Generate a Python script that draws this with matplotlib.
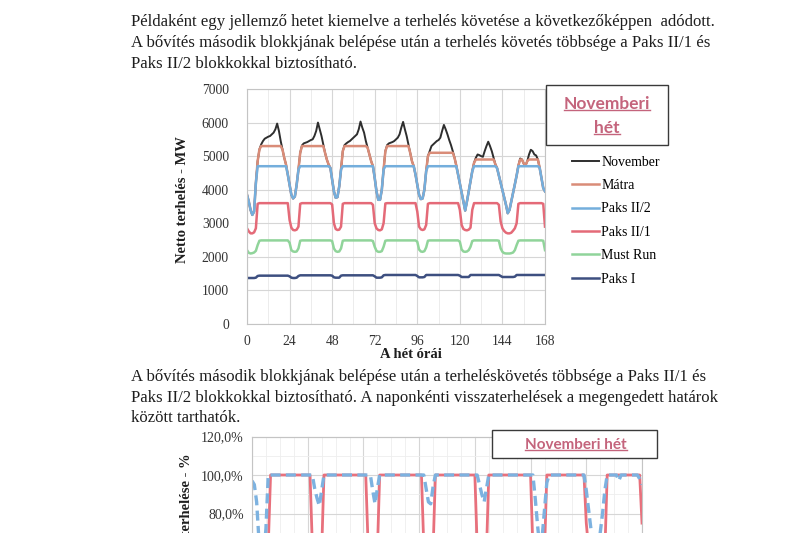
import matplotlib
matplotlib.use("Agg")
import matplotlib.pyplot as plt
import numpy as np
from matplotlib.lines import Line2D
from matplotlib.patches import Rectangle
from matplotlib.ticker import FixedLocator, FuncFormatter, MultipleLocator

W, H = 800, 533
SERIF = "Liberation Serif"
SANS = "Lato"

# ---- text of the page -------------------------------------------------------
para1 = [
    "Példaként egy jellemző hetet kiemelve a terhelés követése a következőképpen  adódott.",
    "A bővítés második blokkjának belépése után a terhelés követés többsége a Paks II/1 és",
    "Paks II/2 blokkokkal biztosítható.",
]
para2 = [
    "A bővítés második blokkjának belépése után a terheléskövetés többsége a Paks II/1 és",
    "Paks II/2 blokkokkal biztosítható. A naponkénti visszaterhelések a megengedett határok",
    "között tarthatók.",
]

# ---- chart 1: hourly stacked load of a November week, MW ---------------------
series_names = ["November", "Mátra", "Paks II/2", "Paks II/1", "Must Run", "Paks I"]

november = [
    3850, 3650, 3400, 3250, 3350, 4200, 4850, 5200, 5350, 5450, 5520, 5550,
    5580, 5600, 5650, 5700, 5800, 5970, 5750, 5450, 5200, 4950, 4750, 4450,
    4150, 3850, 3740, 3800, 4150, 4600, 5100, 5320, 5380, 5400, 5420, 5450,
    5480, 5500, 5600, 5750, 6000, 5800, 5600, 5350, 5100, 4900, 4750, 4650,
    4300, 3950, 3760, 3780, 4100, 4600, 5150, 5330, 5380, 5420, 5450, 5500,
    5550, 5600, 5650, 5800, 6030, 5850, 5700, 5450, 5250, 5050, 4850, 4700,
    4350, 3950, 3700, 3700, 4000, 4600, 5150, 5330, 5380, 5400, 5420, 5450,
    5500, 5550, 5650, 5850, 6020, 5800, 5600, 5350, 5100, 4850, 4700, 4450,
    4150, 3850, 3720, 3740, 4000, 4550, 5000, 5150, 5300, 5350, 5400, 5450,
    5480, 5550, 5750, 5930, 5800, 5650, 5480, 5330, 5150, 4950, 4720, 4450,
    4180, 3920, 3650, 3380, 3650, 3950, 4250, 4550, 4800, 4950, 5050, 5030,
    5000, 4980, 5150, 5300, 5430, 5300, 5150, 4950, 4760, 4640, 4420, 4200,
    3990, 3770, 3550, 3300, 3400, 3650, 3910, 4160, 4420, 4720, 4930, 4900,
    4780, 4720, 4850, 5050, 5190, 5150, 5050, 5020, 4900, 4650, 4350, 4050,
    3950,
]
matra = [
    3850, 3650, 3400, 3250, 3350, 4200, 4850, 5200, 5300, 5300, 5300, 5300,
    5300, 5300, 5300, 5300, 5300, 5300, 5300, 5300, 5200, 4950, 4750, 4450,
    4150, 3850, 3740, 3800, 4150, 4600, 5100, 5300, 5300, 5300, 5300, 5300,
    5300, 5300, 5300, 5300, 5300, 5300, 5300, 5300, 5100, 4900, 4750, 4650,
    4300, 3950, 3760, 3780, 4100, 4600, 5150, 5300, 5300, 5300, 5300, 5300,
    5300, 5300, 5300, 5300, 5300, 5300, 5300, 5300, 5250, 5050, 4850, 4700,
    4350, 3950, 3700, 3700, 4000, 4600, 5150, 5300, 5300, 5300, 5300, 5300,
    5300, 5300, 5300, 5300, 5300, 5300, 5300, 5300, 5100, 4850, 4700, 4450,
    4150, 3850, 3720, 3740, 4000, 4550, 5000, 5100, 5100, 5100, 5100, 5100,
    5100, 5100, 5100, 5100, 5100, 5100, 5100, 5100, 5100, 4950, 4720, 4450,
    4180, 3920, 3650, 3380, 3650, 3950, 4250, 4550, 4800, 4900, 4900, 4900,
    4900, 4900, 4900, 4900, 4900, 4900, 4900, 4900, 4760, 4640, 4420, 4200,
    3990, 3770, 3550, 3300, 3400, 3650, 3910, 4160, 4420, 4720, 4900, 4900,
    4780, 4720, 4850, 4900, 4900, 4900, 4900, 4900, 4900, 4650, 4350, 4050,
    3950,
]
paks2_2 = [
    3850, 3650, 3400, 3250, 3350, 4200, 4700, 4700, 4700, 4700, 4700, 4700,
    4700, 4700, 4700, 4700, 4700, 4700, 4700, 4700, 4700, 4700, 4700, 4450,
    4150, 3850, 3740, 3800, 4150, 4600, 4700, 4700, 4700, 4700, 4700, 4700,
    4700, 4700, 4700, 4700, 4700, 4700, 4700, 4700, 4700, 4700, 4700, 4650,
    4300, 3950, 3760, 3780, 4100, 4600, 4700, 4700, 4700, 4700, 4700, 4700,
    4700, 4700, 4700, 4700, 4700, 4700, 4700, 4700, 4700, 4700, 4700, 4700,
    4350, 3950, 3700, 3700, 4000, 4600, 4700, 4700, 4700, 4700, 4700, 4700,
    4700, 4700, 4700, 4700, 4700, 4700, 4700, 4700, 4700, 4700, 4700, 4450,
    4150, 3850, 3720, 3740, 4000, 4550, 4700, 4700, 4700, 4700, 4700, 4700,
    4700, 4700, 4700, 4700, 4700, 4700, 4700, 4700, 4700, 4700, 4700, 4450,
    4180, 3920, 3650, 3380, 3650, 3950, 4250, 4550, 4700, 4700, 4700, 4700,
    4700, 4700, 4700, 4700, 4700, 4700, 4700, 4700, 4700, 4640, 4420, 4200,
    3990, 3770, 3550, 3300, 3400, 3650, 3910, 4160, 4420, 4700, 4700, 4700,
    4700, 4700, 4700, 4700, 4700, 4700, 4700, 4700, 4700, 4650, 4350, 4050,
    3950,
]
paks2_1 = [
    2850, 2760, 2700, 2700, 2730, 2850, 3580, 3600, 3600, 3600, 3600, 3600,
    3600, 3600, 3600, 3600, 3600, 3600, 3600, 3600, 3600, 3600, 3600, 3600,
    3100, 2870, 2800, 2790, 2810, 2900, 3580, 3600, 3600, 3600, 3600, 3600,
    3600, 3600, 3600, 3600, 3600, 3600, 3600, 3600, 3600, 3600, 3600, 3600,
    3560, 3000, 2830, 2800, 2810, 2900, 3580, 3600, 3600, 3600, 3600, 3600,
    3600, 3600, 3600, 3600, 3600, 3600, 3600, 3600, 3600, 3600, 3600, 3550,
    3000, 2850, 2800, 2790, 2820, 3000, 3590, 3600, 3600, 3600, 3600, 3600,
    3600, 3600, 3600, 3600, 3600, 3600, 3600, 3600, 3600, 3600, 3600, 3600,
    3350, 2900, 2820, 2800, 2820, 2950, 3580, 3600, 3600, 3600, 3600, 3600,
    3600, 3600, 3600, 3600, 3600, 3600, 3600, 3600, 3600, 3600, 3600, 3600,
    3400, 2950, 2830, 2800, 2790, 2810, 2870, 3400, 3600, 3600, 3600, 3600,
    3600, 3600, 3600, 3600, 3600, 3600, 3600, 3600, 3600, 3600, 3550, 3050,
    2850, 2770, 2720, 2700, 2700, 2720, 2780, 2850, 3000, 3580, 3600, 3600,
    3600, 3600, 3600, 3600, 3600, 3600, 3600, 3600, 3600, 3600, 3600, 3580,
    2900,
]
must_run = [
    2200, 2120, 2100, 2110, 2130, 2180, 2350, 2480, 2490, 2490, 2490, 2490,
    2490, 2490, 2490, 2490, 2490, 2490, 2490, 2490, 2490, 2490, 2490, 2490,
    2420, 2200, 2160, 2150, 2160, 2250, 2480, 2490, 2490, 2490, 2490, 2490,
    2490, 2490, 2490, 2490, 2490, 2490, 2490, 2490, 2490, 2490, 2490, 2490,
    2470, 2250, 2170, 2150, 2160, 2250, 2480, 2490, 2490, 2490, 2490, 2490,
    2490, 2490, 2490, 2490, 2490, 2490, 2490, 2490, 2490, 2490, 2490, 2470,
    2300, 2180, 2150, 2150, 2170, 2300, 2480, 2490, 2490, 2490, 2490, 2490,
    2490, 2490, 2490, 2490, 2490, 2490, 2490, 2490, 2490, 2490, 2490, 2490,
    2450, 2220, 2160, 2150, 2170, 2280, 2480, 2490, 2490, 2490, 2490, 2490,
    2490, 2490, 2490, 2490, 2490, 2490, 2490, 2490, 2490, 2490, 2490, 2490,
    2450, 2220, 2160, 2150, 2160, 2200, 2300, 2470, 2490, 2490, 2490, 2490,
    2490, 2490, 2490, 2490, 2490, 2490, 2490, 2490, 2490, 2490, 2480, 2250,
    2150, 2110, 2100, 2100, 2100, 2110, 2130, 2200, 2350, 2480, 2490, 2490,
    2490, 2490, 2490, 2490, 2490, 2490, 2490, 2490, 2490, 2490, 2490, 2480,
    2200,
]
paks1 = [
    1370, 1370, 1370, 1370, 1370, 1380, 1430, 1440, 1440, 1440, 1440, 1440,
    1440, 1440, 1440, 1440, 1440, 1440, 1440, 1440, 1440, 1440, 1440, 1440,
    1420, 1380, 1370, 1370, 1380, 1430, 1450, 1450, 1450, 1450, 1450, 1450,
    1450, 1450, 1450, 1450, 1450, 1450, 1450, 1450, 1450, 1450, 1450, 1450,
    1440, 1390, 1380, 1380, 1380, 1440, 1450, 1450, 1450, 1450, 1450, 1450,
    1450, 1450, 1450, 1450, 1450, 1450, 1450, 1450, 1450, 1450, 1450, 1450,
    1420, 1380, 1380, 1380, 1390, 1450, 1460, 1460, 1460, 1460, 1460, 1460,
    1460, 1460, 1460, 1460, 1460, 1460, 1460, 1460, 1460, 1460, 1460, 1460,
    1430, 1390, 1390, 1390, 1400, 1460, 1460, 1460, 1460, 1460, 1460, 1460,
    1460, 1460, 1460, 1460, 1460, 1460, 1460, 1460, 1460, 1460, 1460, 1460,
    1440, 1400, 1400, 1400, 1400, 1400, 1460, 1460, 1460, 1460, 1460, 1460,
    1460, 1460, 1460, 1460, 1460, 1460, 1460, 1460, 1460, 1460, 1460, 1430,
    1400, 1400, 1400, 1400, 1400, 1400, 1400, 1410, 1460, 1460, 1460, 1460,
    1460, 1460, 1460, 1460, 1460, 1460, 1460, 1460, 1460, 1460, 1460, 1460,
    1460,
]
series_colors = ["#2e2e2e", "#d98c78", "#74aedc", "#e46a78", "#90d49a", "#3d4f80"]
series_widths = [1.4, 1.8, 1.8, 1.8, 1.8, 1.8]

# ---- chart 2: unit loading in percent (only the top of it is on the page) ----
paks2_1_pct = [
    58, 57, 56, 56, 57, 58, 60, 63, 100, 100, 100, 100,
    100, 100, 100, 100, 100, 100, 100, 100, 100, 100, 100, 100,
    100, 100, 63, 59, 58, 58, 60, 100, 100, 100, 100, 100,
    100, 100, 100, 100, 100, 100, 100, 100, 100, 100, 100, 100,
    100, 100, 64, 59, 58, 58, 60, 100, 100, 100, 100, 100,
    100, 100, 100, 100, 100, 100, 100, 100, 100, 100, 100, 100,
    100, 100, 63, 59, 58, 58, 61, 100, 100, 100, 100, 100,
    100, 100, 100, 100, 100, 100, 100, 100, 100, 100, 100, 100,
    100, 63, 59, 58, 58, 60, 100, 100, 100, 100, 100, 100,
    100, 100, 100, 100, 100, 100, 100, 100, 100, 100, 100, 100,
    100, 62, 58, 57, 57, 58, 60, 100, 100, 100, 100, 100,
    100, 100, 100, 100, 100, 100, 100, 100, 100, 100, 100, 100,
    75, 62, 57, 55, 54, 54, 55, 57, 60, 100, 100, 100,
    100, 100, 100, 100, 100, 100, 100, 100, 100, 100, 100, 100,
    75,
]
paks2_2_pct = [
    97, 95, 86, 66, 55, 58, 72, 100, 100, 100, 100, 100,
    100, 100, 100, 100, 100, 100, 100, 100, 100, 100, 100, 100,
    100, 100, 100, 93, 88, 84, 92, 100, 100, 100, 100, 100,
    100, 100, 100, 100, 100, 100, 100, 100, 100, 100, 100, 100,
    100, 100, 100, 100, 92, 85, 93, 100, 100, 100, 100, 100,
    100, 100, 100, 100, 100, 100, 100, 100, 100, 100, 100, 100,
    100, 100, 100, 93, 86, 85, 94, 100, 100, 100, 100, 100,
    100, 100, 100, 100, 100, 100, 100, 100, 100, 100, 100, 100,
    100, 100, 95, 90, 86, 93, 100, 100, 100, 100, 100, 100,
    100, 100, 100, 100, 100, 100, 100, 100, 100, 100, 100, 100,
    100, 100, 88, 74, 62, 68, 82, 96, 100, 100, 100, 100,
    100, 100, 100, 100, 100, 100, 100, 100, 100, 100, 100, 100,
    92, 82, 72, 62, 58, 62, 70, 80, 92, 100, 100, 100,
    100, 100, 97, 100, 100, 100, 100, 100, 100, 100, 100, 98,
    95,
]
pct_ticks = [80, 100, 120]  # the lower ticks fall below the page edge

hours = np.arange(len(november))


def box(left, top, right, bottom):
    """Figure-fraction rectangle from pixel edges measured from the top-left."""
    return [left / W, 1 - bottom / H, (right - left) / W, (bottom - top) / H]


def fx(x):
    return x / W


def fy(y):
    return 1 - y / H


fig = plt.figure(figsize=(W / 100, H / 100), dpi=100)
fig.patch.set_facecolor("white")

for i, line in enumerate(para1):
    fig.text(fx(131), fy(22 + 21 * i), line, family=SERIF, fontsize=12.1,
             color="#1e1e1e", va="center", ha="left")
for i, line in enumerate(para2):
    fig.text(fx(131), fy(377 + 20.5 * i), line, family=SERIF, fontsize=12.1,
             color="#1e1e1e", va="center", ha="left")

# ---- chart 1 -----------------------------------------------------------------
ax1 = fig.add_axes(box(247, 89, 545, 324))
data1 = [november, matra, paks2_2, paks2_1, must_run, paks1]
for name, values, color, lw in zip(series_names, data1, series_colors, series_widths):
    ax1.plot(hours, values, color=color, lw=lw, label=name, solid_joinstyle="round")
ax1.set_xlim(0, 168)
ax1.set_ylim(0, 7000)
ax1.xaxis.set_major_locator(MultipleLocator(24))
ax1.xaxis.set_minor_locator(MultipleLocator(12))
ax1.yaxis.set_major_locator(MultipleLocator(1000))
ax1.grid(which="major", color="#d6d6d6", lw=0.8)
ax1.grid(which="minor", axis="x", color="#ececec", lw=0.7)
ax1.set_axisbelow(True)
for sp in ax1.spines.values():
    sp.set_color("#c4c4c4")
    sp.set_linewidth(0.8)
ax1.tick_params(which="both", length=0)
ax1.tick_params(axis="y", pad=13)
ax1.tick_params(axis="x", pad=8)
for lab in ax1.get_xticklabels() + ax1.get_yticklabels():
    lab.set_family(SERIF)
    lab.set_fontsize(9.8)
    lab.set_color("#333333")

fig.text(fx(411), fy(355), "A hét órái", family=SERIF, fontsize=10.5,
         fontweight="bold", ha="center", va="center", color="#1e1e1e")
fig.text(fx(183), fy(200), "Netto terhelés - MW", family=SERIF, fontsize=10.5,
         fontweight="bold", rotation=90, ha="center", va="center", color="#1e1e1e")

fig.legend(*ax1.get_legend_handles_labels(), loc="upper left",
           bbox_to_anchor=(fx(566), fy(150)), frameon=False,
           prop={"family": SERIF, "size": 10}, handlelength=2.0,
           handletextpad=0.15, labelspacing=0.75, borderaxespad=0)

fig.add_artist(Rectangle((fx(546), fy(145)), (668 - 546) / W, (145 - 85) / H,
                         transform=fig.transFigure, facecolor="white",
                         edgecolor="#3a3a3a", lw=1.0))
title_color = "#c4647c"
t1 = fig.text(fx(607), fy(104), "Novemberi", family=SANS, fontsize=12.5,
              fontweight="bold", color=title_color, ha="center", va="center")
t2 = fig.text(fx(607), fy(128), "hét", family=SANS, fontsize=12.5,
              fontweight="bold", color=title_color, ha="center", va="center")

# ---- chart 2 -----------------------------------------------------------------
ax2 = fig.add_axes(box(252, 436.5, 642, 667.5))
ax2.plot(hours, paks2_1_pct, color="#e8707c", lw=2.0)
ax2.plot(hours, paks2_2_pct, color="#7db2e0", lw=2.4, ls=(0, (3, 1.6)))
ax2.set_xlim(0, 168)
ax2.set_ylim(0, 120)
ax2.xaxis.set_major_locator(MultipleLocator(24))
ax2.xaxis.set_minor_locator(MultipleLocator(6))
ax2.yaxis.set_major_locator(FixedLocator(pct_ticks))
ax2.yaxis.set_minor_locator(MultipleLocator(10))
ax2.yaxis.set_major_formatter(FuncFormatter(lambda v, p: f"{v:.1f}%".replace(".", ",")))
ax2.grid(which="major", color="#d6d6d6", lw=0.8)
ax2.grid(which="minor", color="#eeeeee", lw=0.6)
ax2.set_axisbelow(True)
for sp in ax2.spines.values():
    sp.set_color("#c4c4c4")
    sp.set_linewidth(0.8)
ax2.tick_params(which="both", length=0)
ax2.tick_params(axis="x", labelbottom=False)
ax2.tick_params(axis="y", pad=6)
for lab in ax2.get_yticklabels():
    lab.set_family(SERIF)
    lab.set_fontsize(10)
    lab.set_color("#333333")

fig.text(fx(187), fy(453), "Paks II blokkok terhelése - %", family=SERIF,
         fontsize=10.5, fontweight="bold", rotation=90, ha="center", va="top",
         color="#1e1e1e")

fig.add_artist(Rectangle((fx(492), fy(458)), (657 - 492) / W, (458 - 430) / H,
                         transform=fig.transFigure, facecolor="white",
                         edgecolor="#3a3a3a", lw=1.0))
t3 = fig.text(fx(576), fy(445), "Novemberi hét", family=SANS, fontsize=11,
              fontweight="bold", color=title_color, ha="center", va="center")

# underline the pink titles
fig.canvas.draw()
renderer = fig.canvas.get_renderer()
for t in (t1, t2, t3):
    bb = t.get_window_extent(renderer)
    y = bb.y0 + 2
    fig.add_artist(Line2D([bb.x0 / W, bb.x1 / W], [y / H, y / H],
                          transform=fig.transFigure, color=title_color, lw=1.0))

fig.savefig("out.png", dpi=100)
